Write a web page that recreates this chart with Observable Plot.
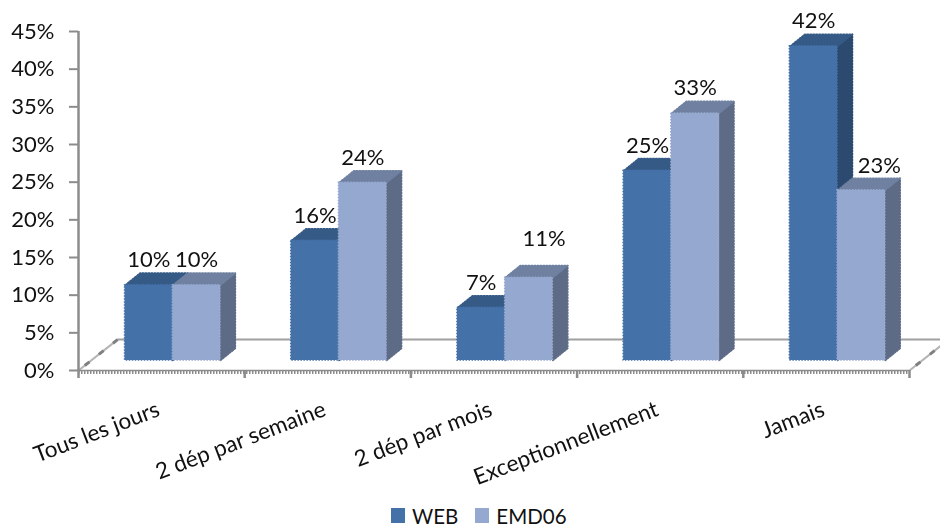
<!DOCTYPE html>
<html lang="fr">
<head>
<meta charset="utf-8">
<script src="https://cdn.jsdelivr.net/npm/d3@7"></script>
<script src="https://cdn.jsdelivr.net/npm/@observablehq/plot@0.6"></script>
<style>
  html, body { margin: 0; padding: 0; background: #fff; overflow: hidden; }
  #chart svg { display: block; overflow: hidden; filter: blur(0.35px); }
  #legend { position: relative; height: 27px; padding-top: 4px; font: 20.5px Lato, sans-serif; color: #111; display: flex; align-items: center; justify-content: flex-start; padding-left: 391px; box-sizing: border-box; }
  #legend .sw { width: 14px; height: 15px; display: inline-block; margin-right: 7px; }
  #legend .it { display: inline-flex; align-items: center; margin-right: 17px; }
</style>
</head>
<body>
<div id="chart"></div>
<div id="legend"></div>
<script>
const categories = ["Tous les jours", "2 dép par semaine", "2 dép par mois", "Exceptionnellement", "Jamais"];
const webValues = [10, 15.9, 7, 25.2, 41.7];
const emdValues = [10, 23.6, 11, 32.8, 22.6];
const yTicks = [0, 5, 10, 15, 20, 25, 30, 35, 40, 45];
const seriesNames = ["WEB", "EMD06"];

const colors = {
  WEB: {front: "#4571a9", top: "#355a85", side: "#2c4a70"},
  EMD06: {front: "#95a8cf", top: "#6f80a0", side: "#5e6b86"}
};

// 3D look, all in data units so the scales place everything
const depthX = 0.09, depthY = 1.6, barStart = 0.28, barWidth = 0.287;
const floorX = 0.235, floorY = 4.1;
const lift = -10;

const bars = [];
categories.forEach((c, i) => {
  [webValues, emdValues].forEach((vals, s) => {
    const x1 = i + barStart + s * barWidth, x2 = x1 + barWidth, v = vals[i];
    bars.push({id: c + s, series: seriesNames[s], x1, x2, v, y0: 0, label: Math.round(v) + "%", moved: v === 11 || v === 22.6});
  });
});
const faces = (series, kind) => bars.filter(b => b.series === series).flatMap(b =>
  (kind === "top"
    ? [[b.x1, b.v], [b.x2, b.v], [b.x2 + depthX, b.v + depthY], [b.x1 + depthX, b.v + depthY], [b.x1, b.v]]
    : [[b.x2, 0], [b.x2 + depthX, depthY], [b.x2 + depthX, b.v + depthY], [b.x2, b.v], [b.x2, 0]]
  ).map(([x, y]) => ({id: b.id, x, y})));

const axisGrey = "#8c8c8c";
const seriesMarks = seriesNames.flatMap(s => [
  Plot.line(faces(s, "side"), {x: "x", y: "y", z: "id", fill: colors[s].side, stroke: colors[s].side, strokeWidth: 1.5, strokeDasharray: "1.5 1.5", dy: lift}),
  Plot.line(faces(s, "top"), {x: "x", y: "y", z: "id", fill: colors[s].top, stroke: colors[s].top, strokeWidth: 1.5, strokeDasharray: "1.5 1.5", dy: lift}),
  Plot.rect(bars.filter(b => b.series === s), {x1: "x1", x2: "x2", y1: "y0", y2: "v", fill: colors[s].front, stroke: colors[s].front, strokeWidth: 1.5, strokeDasharray: "1.5 1.5", dy: lift})
]);

const textStyle = {fontFamily: "Lato, sans-serif", fontSize: 22, fill: "#111"};
const labelAt = b => (b.x1 + b.x2) / 2;
const labelY = b => b.v + depthY;

const chart = Plot.plot({
  width: 940,
  height: 500,
  marginTop: 31, marginBottom: 130, marginLeft: 78, marginRight: 31,
  style: {background: "#fff"},
  x: {type: "linear", domain: [0, 5], axis: null},
  y: {type: "linear", domain: [0, 45], axis: null},
  marks: [
    // floor
    Plot.ruleY([floorY], {x1: () => floorX, x2: () => 5 + floorX, stroke: "#a0a0a0", strokeWidth: 2}),
    Plot.link([0, 5], {x1: d => d, y1: () => 0, x2: d => d + floorX, y2: () => floorY, stroke: "#b4b4b4", strokeWidth: 2}),
    Plot.link([0, 5], {x1: d => d, y1: () => 0, x2: d => d + floorX, y2: () => floorY, stroke: "#808080", strokeWidth: 3, strokeDasharray: "6 12", strokeDashoffset: -8}),
    // axes
    Plot.ruleX([0], {y1: () => 0, y2: () => 45, stroke: axisGrey, strokeWidth: 2.5}),
    Plot.axisY(yTicks, {anchor: "left", tickSize: 9, tickPadding: 15, stroke: axisGrey, strokeWidth: 2, tickFormat: d => d + "%", label: null, fontFamily: "Lato, sans-serif", fontSize: 22, fill: "#111"}),
    Plot.ruleY([0], {x1: () => 0, x2: () => 5, stroke: axisGrey, strokeWidth: 1.5}),
    Plot.ruleY([0], {x1: () => 0, x2: () => 5, stroke: axisGrey, strokeWidth: 3, strokeDasharray: "1.5 1.5", dy: 2}),
    Plot.axisX(d3.range(6), {anchor: "bottom", tickSize: 8, stroke: axisGrey, strokeWidth: 2.5, tickFormat: () => "", label: null}),
    // bars
    ...seriesMarks,
    // value labels
    Plot.text(bars.filter(b => !b.moved), {x: labelAt, y: labelY, text: "label", dy: lift - 13, ...textStyle}),
    Plot.text(bars.filter(b => b.v === 11), {x: labelAt, y: labelY, text: "label", dx: 15, dy: lift - 27, ...textStyle}),
    Plot.text(bars.filter(b => b.v === 22.6), {x: labelAt, y: labelY, text: "label", dx: 18, dy: lift - 12, ...textStyle}),
    // category labels
    Plot.text(categories, {x: (d, i) => i + 0.5, y: () => 0, text: d => d, rotate: -21, textAnchor: "end", lineAnchor: "middle", dx: -3, dy: 38, ...textStyle, fontSize: 22.5})
  ]
});
document.getElementById("chart").append(chart);

const legend = document.getElementById("legend");
seriesNames.forEach(s => {
  const it = document.createElement("span");
  it.className = "it";
  const sw = document.createElement("span");
  sw.className = "sw";
  sw.style.background = colors[s].front;
  it.append(sw, document.createTextNode(s));
  legend.append(it);
});
</script>
</body>
</html>
